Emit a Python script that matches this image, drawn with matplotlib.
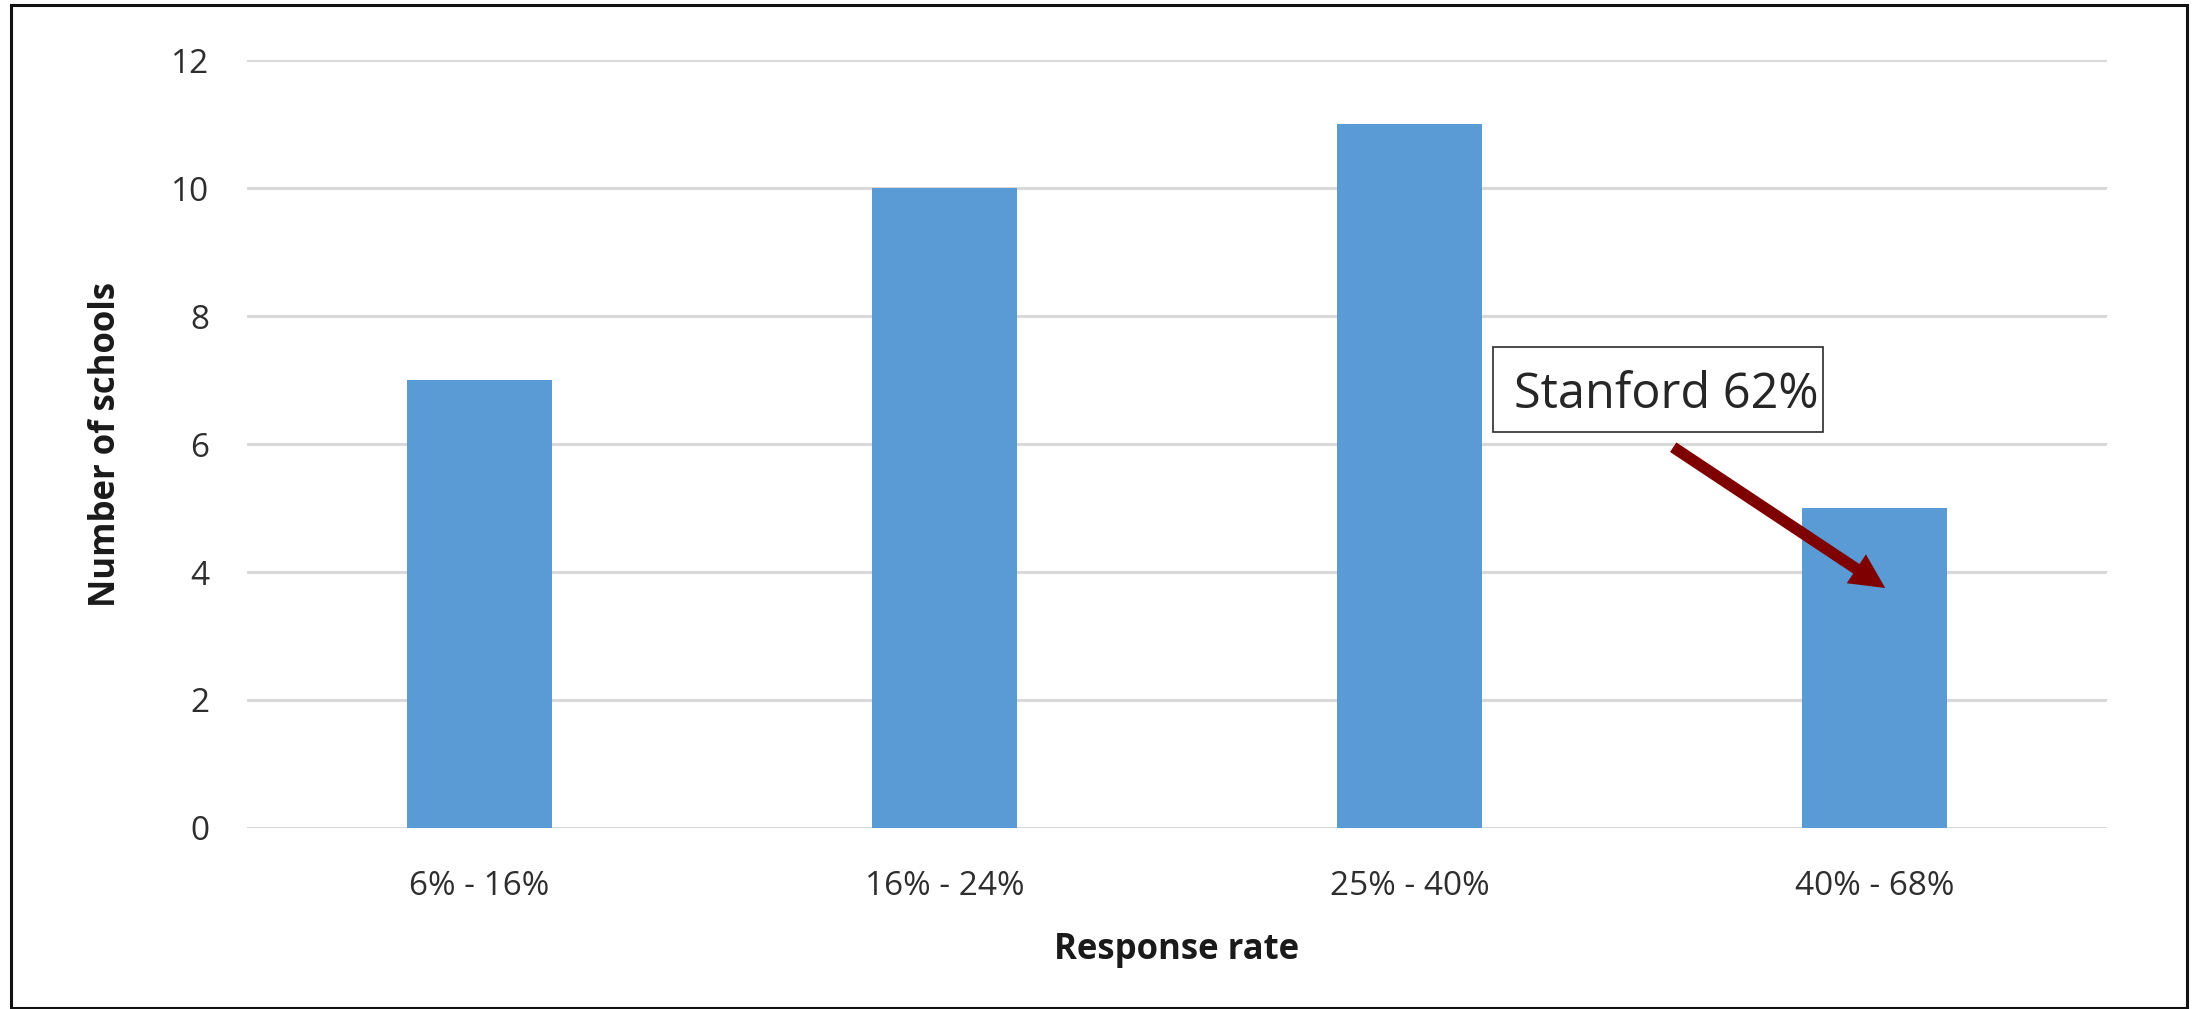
import matplotlib.pyplot as plt
from matplotlib.patches import Rectangle

categories = ['6% - 16%', '16% - 24%', '25% - 40%', '40% - 68%']
schools = [7, 10, 11, 5]
y_ticks = [0, 2, 4, 6, 8, 10, 12]
note_text = 'Stanford 62%'

plt.rcParams['font.family'] = ['Open Sans', 'DejaVu Sans']

fig = plt.figure(figsize=(21.96, 10.09), dpi=100)
fig.patch.set_facecolor('white')
ax = fig.add_axes([0.1125, 0.1794, 0.847, 0.7611])

x = range(len(categories))
ax.bar(x, schools, width=0.31, color='#5b9bd5', zorder=3)

ax.set_xlim(-0.5, len(categories) - 0.5)
ax.set_ylim(0, 12)
ax.set_yticks(y_ticks)
ax.set_xticks(list(x))
ax.set_xticklabels(categories)
ax.grid(axis='y', color='#d9d9d9', linewidth=2.2, zorder=0)
ax.set_axisbelow(True)
for s in ax.spines.values():
    s.set_visible(False)
ax.tick_params(axis='both', length=0, labelsize=24, colors='#2e2e2e')
ax.tick_params(axis='y', pad=27)
ax.tick_params(axis='x', pad=30)

ax.set_xlabel('Response rate', fontsize=25, fontweight='bold', color='#1a1a1a', labelpad=21)
ax.set_ylabel('Number of schools', fontsize=25, fontweight='bold', color='#1a1a1a', labelpad=34)

# callout box and arrow
ax.add_patch(Rectangle((2.18, 6.19), 0.71, 1.33, facecolor='white', edgecolor='#2b2b2b',
                       linewidth=1.2, zorder=5))
ax.text(2.225, 6.56, note_text, ha='left', va='baseline', fontsize=35, color='#262626', zorder=6)
ax.annotate('', xy=(3.023, 3.75), xytext=(2.567, 5.95),
            arrowprops=dict(arrowstyle='simple,head_length=1.0,head_width=1.0,tail_width=0.33',
                            mutation_scale=25, color='#7f0000', lw=0,
                            shrinkA=0, shrinkB=0), zorder=6)

# outer frame
fig.add_artist(Rectangle((0.005, 0.001), 0.991, 0.994, transform=fig.transFigure,
                         fill=False, edgecolor='#111111', linewidth=2.2))

fig.savefig('out.png', dpi=100)
